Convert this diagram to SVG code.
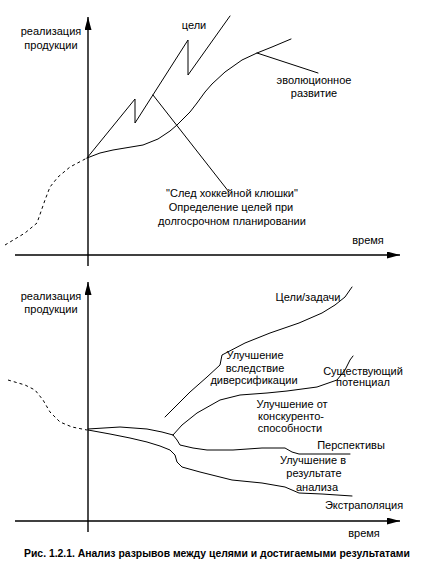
<svg xmlns="http://www.w3.org/2000/svg" width="425" height="569" viewBox="0 0 425 569">
<style>
text{font-family:"Liberation Sans",Arial,sans-serif;font-size:11px;fill:#000}
.c{text-anchor:middle}
.ax{stroke:#000;stroke-width:1.4;fill:none}
.ln{stroke:#000;stroke-width:1;fill:none;stroke-linejoin:round;stroke-linecap:round}
.ds{stroke:#000;stroke-width:1;fill:none;stroke-dasharray:3 3}
.cap{font-weight:bold;font-size:10.4px;text-anchor:middle}
</style>
<defs>
<marker id="ah" markerUnits="userSpaceOnUse" markerWidth="14" markerHeight="8" refX="13" refY="3.5" orient="auto">
<path d="M0,0 L13,3.5 L0,7 z" fill="#000"/>
</marker>
</defs>
<rect width="425" height="569" fill="#fff"/>

<g id="connectors">
<!-- top axes -->
<line class="ax" x1="88" y1="266" x2="88" y2="17" marker-end="url(#ah)"/>
<line class="ax" x1="15" y1="255" x2="400" y2="255" marker-end="url(#ah)"/>
<!-- top dashed history -->
<polyline class="ds" points="5,245 25,233 37,223 45,200 50,187 58,177 70,167 87,158"/>
<!-- hockey stick goals -->
<polyline class="ln" points="87,158 135,99 135,123 188,40 188,75 230,16"/>
<!-- evolutionary development -->
<polyline class="ln" points="87,158 100,153 113,150 143,145 158,139 170,131 177,125 190,112 197,103 205,92 212,84 225,72 242,60 257,53 272,47 291,39"/>
<!-- pointer lines -->
<line class="ln" x1="257" y1="53" x2="318" y2="73"/>
<line class="ln" x1="153" y1="95" x2="229" y2="192"/>

<!-- bottom axes -->
<line class="ax" x1="88" y1="532" x2="88" y2="282" marker-end="url(#ah)"/>
<line class="ax" x1="15" y1="521" x2="400" y2="521" marker-end="url(#ah)"/>
<!-- bottom dashed history -->
<polyline class="ds" points="8,380 25,385 35,390 43,400 50,412 60,422 72,427 87,430"/>
<!-- upper trunk to split -->
<polyline class="ln" points="88,429 120,427 147,429 162,432 173,435"/>
<!-- upward branch: competitiveness / existing potential -->
<polyline class="ln" points="173,435 182,425 197,413 220,400 240,395 267,393 287,391 317,387 337,380 345,370 350,360 353,356"/>
<!-- downward branch: prospects -->
<polyline class="ln" points="173,435 177,440 180,445 193,448 207,450 233,450 262,448 285,448 292,452 299,454 350,454"/>
<!-- lower trunk: analysis / extrapolation -->
<polyline class="ln" points="88,430 110,434 130,438 147,442 160,446 170,450 175,455 177,462 182,467 200,472 212,475 232,480 262,483 285,487 292,490 299,493 322,494 352,496"/>
<!-- diversification / goals -->
<polyline class="ln" points="165,417 175,407 190,392 207,377 220,365 222,355 245,343 270,333 299,323 322,313 335,305 345,297 352,287"/>
</g>

<g id="top-y-label"><text class="c" x="51" y="35">реализация</text><text class="c" x="51" y="49">продукции</text></g>
<g id="top-goals"><text class="c" x="194" y="29">цели</text></g>
<g id="top-evolution"><text class="c" x="314" y="84">эволюционное</text><text class="c" x="314" y="97">развитие</text></g>
<g id="top-hockey"><text class="c" x="232" y="197">"След хоккейной клюшки"</text><text class="c" x="231" y="211">Определение целей при</text><text class="c" x="232" y="225">долгосрочном планировании</text></g>
<g id="top-x-label"><text class="c" x="368" y="244">время</text></g>

<g id="bottom-y-label"><text class="c" x="51" y="300">реализация</text><text class="c" x="51" y="313">продукции</text></g>
<g id="bottom-goals"><text class="c" x="308" y="301">Цели/задачи</text></g>
<g id="bottom-diversification"><text class="c" x="255" y="359">Улучшение</text><text class="c" x="255" y="372">вследствие</text><text class="c" x="254" y="384">диверсификации</text></g>
<g id="bottom-potential"><text class="c" x="363" y="375">Существующий</text><text class="c" x="363" y="386">потенциал</text></g>
<g id="bottom-competitiveness"><text class="c" x="292" y="408">Улучшение от</text><text class="c" x="291" y="420">конскуренто-</text><text class="c" x="290" y="432">способности</text></g>
<g id="bottom-prospects"><text class="c" x="351" y="449">Перспективы</text></g>
<g id="bottom-analysis"><text class="c" x="313" y="464">Улучшение в</text><text class="c" x="314" y="477">результате</text><text class="c" x="317" y="491">анализа</text></g>
<g id="bottom-extrapolation"><text class="c" x="364" y="509">Экстраполяция</text></g>
<g id="bottom-x-label"><text class="c" x="364" y="537">время</text></g>

<g id="caption"><text class="cap" x="217" y="557">Рис. 1.2.1. Анализ разрывов между целями и достигаемыми результатами</text></g>
</svg>
